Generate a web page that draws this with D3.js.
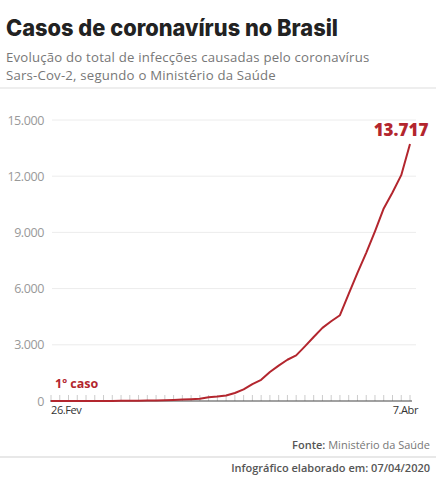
<!DOCTYPE html>
<html>
<head>
<meta charset="utf-8">
<script src="https://cdn.jsdelivr.net/npm/d3@7"></script>
<style>
  body { margin: 0; background: #fff; }
  svg { display: block; }
</style>
</head>
<body>
<svg width="436" height="480"></svg>
<script>
// casos acumulados, 26/02 a 07/04
const dates = ["2020-02-26","2020-02-27","2020-02-28","2020-02-29","2020-03-01","2020-03-02","2020-03-03",
  "2020-03-04","2020-03-05","2020-03-06","2020-03-07","2020-03-08","2020-03-09","2020-03-10","2020-03-11",
  "2020-03-12","2020-03-13","2020-03-14","2020-03-15","2020-03-16","2020-03-17","2020-03-18","2020-03-19",
  "2020-03-20","2020-03-21","2020-03-22","2020-03-23","2020-03-24","2020-03-25","2020-03-26","2020-03-27",
  "2020-03-28","2020-03-29","2020-03-30","2020-03-31","2020-04-01","2020-04-02","2020-04-03","2020-04-04",
  "2020-04-05","2020-04-06","2020-04-07"];
const cases = [1,1,1,2,2,2,2,3,8,13,19,25,25,34,52,77,98,121,200,234,291,428,621,904,1128,1546,1891,
  2201,2433,2915,3417,3904,4256,4579,5717,6836,7910,9056,10278,11130,12056,13717];
const yTicks = [0, 3000, 6000, 9000, 12000, 15000];
const xLabels = ["26.Fev", "7.Abr"];

const red = "#b3262e";
const svg = d3.select("svg");
const parse = d3.timeParse("%Y-%m-%d");
const data = dates.map((d, i) => ({ date: parse(d), value: cases[i] }));

const x = d3.scaleTime()
  .domain(d3.extent(data, d => d.date))
  .range([51, 410]);
const y = d3.scaleLinear()
  .domain([0, 15000])
  .range([401, 120]);

const fmt = d3.formatLocale({ decimal: ",", thousands: ".", grouping: [3], currency: ["R$", ""] }).format(",d");

// titulo
svg.append("text").attr("x", 6).attr("y", 36)
  .attr("font-family", "Inter, sans-serif").attr("font-weight", 800)
  .attr("font-size", 23).attr("fill", "#222")
  .attr("textLength", 332).attr("lengthAdjust", "spacingAndGlyphs")
  .text("Casos de coronavírus no Brasil");
svg.append("text").attr("x", 6).attr("y", 62)
  .attr("font-family", "Open Sans, sans-serif").attr("font-size", 13.2).attr("fill", "#777")
  .attr("letter-spacing", 0.2)
  .text("Evolução do total de infecções causadas pelo coronavírus");
svg.append("text").attr("x", 6).attr("y", 80)
  .attr("font-family", "Open Sans, sans-serif").attr("font-size", 13.2).attr("fill", "#777")
  .attr("letter-spacing", 0.2)
  .text("Sars-Cov-2, segundo o Ministério da Saúde");
svg.append("rect").attr("x", 0).attr("y", 87).attr("width", 436).attr("height", 2).attr("fill", "#eee");

// grade + eixo y
const grid = svg.append("g");
grid.selectAll("line").data(yTicks.filter(d => d > 0)).enter().append("line")
  .attr("x1", 52).attr("x2", 416)
  .attr("y1", d => y(d)).attr("y2", d => y(d))
  .attr("stroke", "#ececec").attr("stroke-width", 1);
grid.selectAll("text").data(yTicks).enter().append("text")
  .attr("x", 44).attr("y", d => y(d) + 4.5)
  .attr("text-anchor", "end")
  .attr("font-family", "Open Sans, sans-serif").attr("font-size", 12.5).attr("fill", "#999")
  .attr("letter-spacing", -0.4)
  .text(d => fmt(d));

// eixo x com marcas diarias
svg.append("g").selectAll("line").data(data).enter().append("line")
  .attr("x1", d => x(d.date)).attr("x2", d => x(d.date))
  .attr("y1", y(0) - 6).attr("y2", y(0))
  .attr("stroke", "#ccc").attr("stroke-width", 1);
svg.append("line").attr("x1", 50).attr("x2", 412)
  .attr("y1", y(0)).attr("y2", y(0))
  .attr("stroke", "#444").attr("stroke-width", 1.2);

svg.append("text").attr("x", 51).attr("y", 414)
  .attr("font-family", "Open Sans, sans-serif").attr("font-size", 11).attr("fill", "#333")
  .attr("letter-spacing", -0.4)
  .text(xLabels[0]);
svg.append("text").attr("x", 418).attr("y", 414).attr("text-anchor", "end")
  .attr("font-family", "Open Sans, sans-serif").attr("font-size", 11).attr("fill", "#333")
  .attr("letter-spacing", -0.4)
  .text(xLabels[1]);

// linha
const line = d3.line().x(d => x(d.date)).y(d => y(d.value));
svg.append("path").datum(data)
  .attr("d", line)
  .attr("fill", "none").attr("stroke", red).attr("stroke-width", 2)
  .attr("stroke-linejoin", "round");

// rotulos
const last = data[data.length - 1];
svg.append("text").attr("x", x(last.date) - 9).attr("y", y(last.value) - 8)
  .attr("text-anchor", "middle")
  .attr("font-family", "Open Sans, sans-serif").attr("font-weight", 800)
  .attr("font-size", 17).attr("fill", red)
  .text(fmt(last.value));
svg.append("text").attr("x", 55).attr("y", 388)
  .attr("font-family", "Open Sans, sans-serif").attr("font-weight", 700)
  .attr("font-size", 12.5).attr("fill", red)
  .text("1º caso");

// rodape
const foot = svg.append("text").attr("x", 430).attr("y", 449).attr("text-anchor", "end")
  .attr("font-family", "Open Sans, sans-serif").attr("font-size", 11).attr("fill", "#777");
foot.append("tspan").attr("font-weight", 600).attr("fill", "#555").text("Fonte:");
foot.append("tspan").text(" Ministério da Saúde");
svg.append("rect").attr("x", 0).attr("y", 456).attr("width", 436).attr("height", 2).attr("fill", "#e8e8e8");
svg.append("text").attr("x", 430).attr("y", 472).attr("text-anchor", "end")
  .attr("font-family", "Open Sans, sans-serif").attr("font-weight", 600)
  .attr("font-size", 11).attr("fill", "#555")
  .text("Infográfico elaborado em: 07/04/2020");
</script>
</body>
</html>
